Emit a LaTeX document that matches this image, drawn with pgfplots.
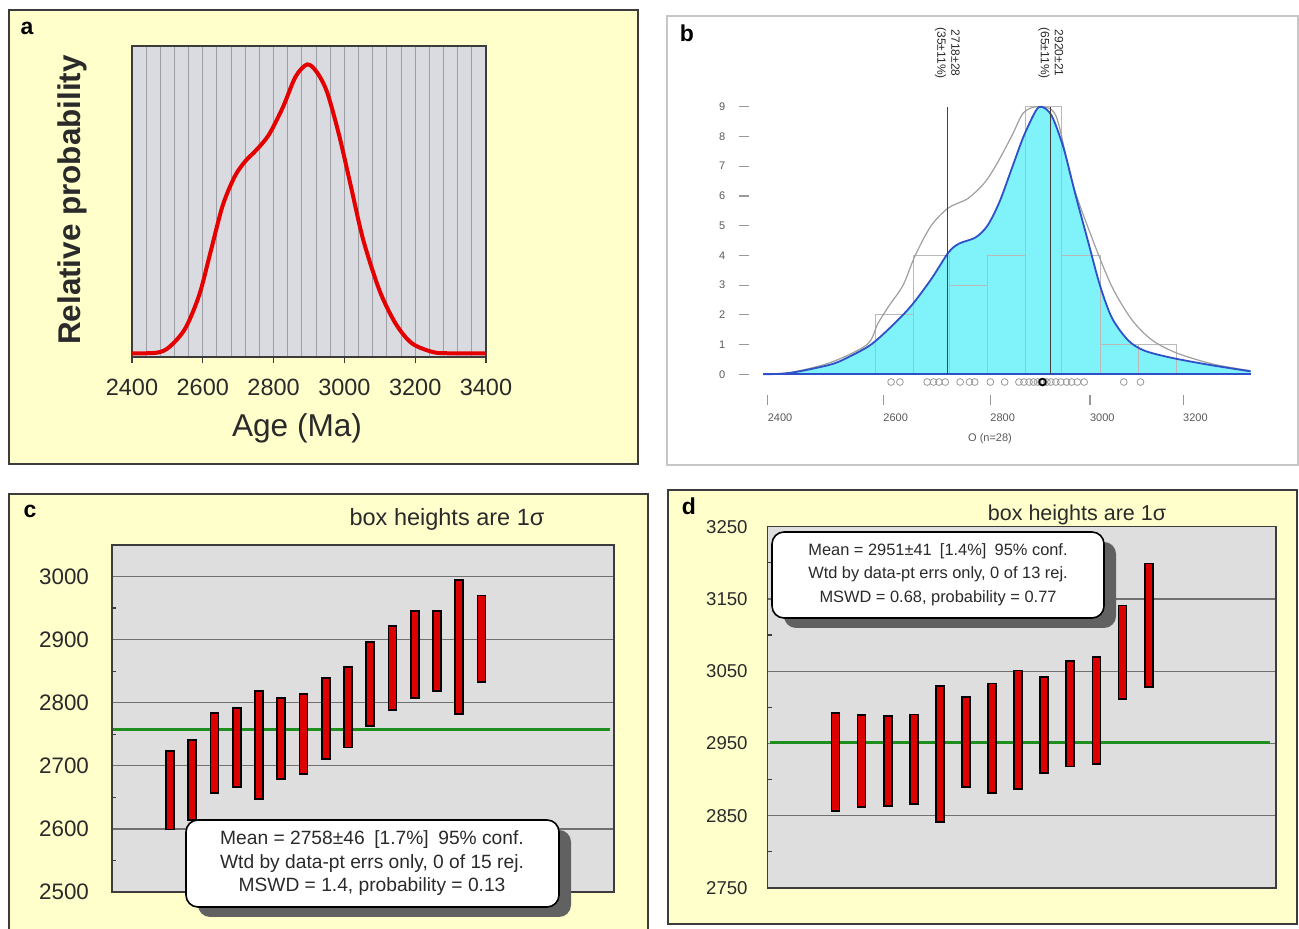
\documentclass[border=0pt]{standalone}
\usepackage{fontspec}
\setmainfont{Liberation Sans}
\usepackage{pgfplots}
\usepackage{pgfplotstable}
\pgfplotsset{compat=1.18}
\definecolor{pyellow}{HTML}{FFFFCC}
\definecolor{pframe}{HTML}{3C3C3C}
\definecolor{abg}{HTML}{DADBE1}
\definecolor{agrid}{HTML}{9E9EA6}
\definecolor{cbg}{HTML}{DEDEDE}
\definecolor{cgrid}{HTML}{707070}
\definecolor{barred}{HTML}{DD0000}
\definecolor{mgreen}{HTML}{1E8F1E}
\definecolor{pcyan}{HTML}{80F2FA}
\definecolor{pblue}{HTML}{2E50C8}
\definecolor{txt}{HTML}{2A2A2A}

\pgfplotstableread{
i lo hi
1 2599 2724
2 2614 2741
3 2657 2784
4 2667 2792
5 2648 2819
6 2679 2808
7 2687 2814
8 2711 2839
9 2729 2856
10 2763 2896
11 2788 2921
12 2808 2946
13 2818 2945
14 2782 2994
15 2833 2970
}\datac

\pgfplotstableread{
i lo hi
1 2857 2992
2 2862 2989
3 2864 2988
4 2866 2990
5 2841 3029
6 2890 3014
7 2882 3033
8 2887 3051
9 2909 3042
10 2918 3064
11 2922 3070
12 3012 3141
13 3028 3199
}\datad

\begin{document}
\begin{tikzpicture}[x=0.5pt,y=0.5pt]
\useasboundingbox (0,0) rectangle (1299,929);
% panel frames
\filldraw[fill=pyellow, draw=pframe, line width=1pt] (9,465) rectangle (638,919);
\filldraw[fill=white, draw=gray!45, line width=0.8pt] (667,464) rectangle (1298,913);
\fill[pyellow] (9,0) rectangle (648,435);
\draw[pframe, line width=1pt] (9,0) -- (9,435) -- (648,435) -- (648,0);
\filldraw[fill=pyellow, draw=pframe, line width=1pt] (668,5) rectangle (1297,439);

\node[font=\bfseries\fontsize{11.5}{12}\selectfont] at (27,901) {a};
\node[font=\bfseries\fontsize{11.5}{12}\selectfont] at (687,896) {b};
\node[font=\bfseries\fontsize{11.5}{12}\selectfont] at (30,418) {c};
\node[font=\bfseries\fontsize{11.5}{12}\selectfont] at (689,423) {d};

% ---------------- panel a
\begin{axis}[at={(66pt,286pt)}, anchor=south west, scale only axis,
  width=177pt, height=155.5pt,
  xmin=2400, xmax=3400, ymin=-0.012, ymax=1,
  xtick={2400,2600,...,3400}, minor x tick num=4, ytick=\empty,
  xmajorgrids, xminorgrids,
  major grid style={draw=agrid, line width=0.5pt},
  minor grid style={draw=agrid, line width=0.5pt},
  axis background/.style={fill=abg},
  axis line style={draw=pframe, line width=0.8pt},
  tick pos=left, tick align=outside, major tick length=3pt, minor tick length=0pt,
  tick style={draw=pframe, line width=0.6pt},
  xticklabel style={font=\fontsize{11.75}{12}\selectfont, text=txt, yshift=-4.5pt},
  /pgf/number format/assume math mode=true,
  /pgf/number format/1000 sep={},
]
\addplot[smooth, draw=red!90!black, line width=2pt] coordinates {
(2400,0) (2470,0.002) (2505,0.02) (2550,0.08) (2590,0.19) (2622,0.33) (2656,0.48)
(2690,0.575) (2720,0.625) (2750,0.66) (2786,0.71) (2826,0.8) (2862,0.9) (2895,0.94)
(2922,0.915) (2951,0.85) (2985,0.71) (3019,0.54) (3053,0.37) (3099,0.205) (3144,0.098)
(3190,0.033) (3250,0.004) (3300,0) (3400,0)};
\end{axis}
\node[font=\fontsize{15.8}{16}\selectfont, text=txt] at (297,501) {Age (Ma)};
\node[font=\bfseries\fontsize{15.7}{16}\selectfont, text=txt, rotate=90] at (72,729) {Relative probability};

% ---------------- panel b
\begin{axis}[at={(376pt,267pt)}, anchor=south west, scale only axis,
  width=249.2pt, height=151.55pt,
  xmode=log, xmin=2374.2, xmax=3352.9, ymin=-0.696, ymax=9.5,
  axis line style={draw=none},
  xtick={2400,2600,2800,3000,3200}, xticklabels={2400,2600,2800,3000,3200},
  ytick={0,1,...,9}, yticklabels={0,1,2,3,4,5,6,7,8,9},
  tick pos=left, tick align=outside, major tick length=5pt, minor tick length=0pt,
  tick style={draw=gray!80, line width=0.6pt},
  tick label style={font=\fontsize{5.5}{6}\selectfont, text=black!65},
  xticklabel style={anchor=north west, xshift=-3.5pt, yshift=-1pt},
  yticklabel style={xshift=-5pt},
  ytick style={xshift=-1.5pt},
  clip=false,
]
\addplot[smooth, fill=pcyan, draw=none] coordinates {
(2392.7,0) (2438.4,0.05) (2507.1,0.33) (2542.2,0.62) (2577.9,1.0) (2614.0,1.6) (2650.6,2.3)
(2687.7,3.2) (2720.0,4.1) (2740.5,4.4) (2771.2,4.6) (2794.4,5.0) (2817.8,5.8) (2841.4,6.9)
(2865.2,8.0) (2889.2,8.85) (2901.3,9.0) (2921.5,8.7) (2946.0,7.6) (2970.7,6.0) (2995.6,4.5)
(3020.7,3.0) (3046.0,1.9) (3080.1,1.15) (3114.6,0.8) (3176.0,0.55) (3265.5,0.3) (3352.9,0.1)} \closedcycle;
\addplot[ybar interval, draw=gray!55, fill=none, line width=0.5pt] coordinates {
(2585,2) (2654,4) (2721,3) (2794,4) (2869,9) (2942,4) (3021,1) (3102,1) (3185,1)};
\addplot[smooth, draw=gray!75, line width=0.6pt] coordinates {
(2392.7,0) (2438.4,0.06) (2507.1,0.4) (2570.7,1.0) (2590,1.7) (2610,2.3) (2635.9,3.0) (2658.0,4.0)
(2687.7,5.0) (2720.0,5.6) (2755.7,5.9) (2786.7,6.4) (2810.0,7.0) (2841.4,8.0) (2865.2,8.8)
(2895,9.0) (2930,8.7) (2962.6,6.5) (3003.9,4.6) (3046,2.95) (3088.7,1.83) (3132,1.15)
(3185,0.72) (3265,0.35) (3352.9,0.12)};
\addplot[smooth, draw=pblue, line width=0.9pt] coordinates {
(2392.7,0) (2438.4,0.05) (2507.1,0.33) (2542.2,0.62) (2577.9,1.0) (2614.0,1.6) (2650.6,2.3)
(2687.7,3.2) (2720.0,4.1) (2740.5,4.4) (2771.2,4.6) (2794.4,5.0) (2817.8,5.8) (2841.4,6.9)
(2865.2,8.0) (2889.2,8.85) (2901.3,9.0) (2921.5,8.7) (2946.0,7.6) (2970.7,6.0) (2995.6,4.5)
(3020.7,3.0) (3046.0,1.9) (3080.1,1.15) (3114.6,0.8) (3176.0,0.55) (3265.5,0.3) (3352.9,0.1)};
\addplot[draw=pblue, line width=0.9pt] coordinates {(2392.7,0) (3352.9,0)};
\addplot[draw=black!75, line width=0.5pt] coordinates {(2718,0) (2718,9)};
\addplot[draw=black!75, line width=0.5pt] coordinates {(2920,0) (2920,9)};
\addplot[only marks, mark=o, mark size=1.7pt, draw=gray!80, mark options={line width=0.4pt}] coordinates {
(2614,-0.26) (2630,-0.26) (2680,-0.26) (2692,-0.26) (2702,-0.26) (2714,-0.26) (2742,-0.26)
(2760,-0.26) (2800,-0.26) (2828,-0.26) (2856,-0.26) (2866,-0.26) (2876,-0.26) (2885,-0.26)
(2893,-0.26) (2900,-0.26) (2906,-0.26) (2912,-0.26) (2920,-0.26) (2930,-0.26) (2940,-0.26)
(2952,-0.26) (2962,-0.26) (2974,-0.26) (2988,-0.26) (2770,-0.26) (3071,-0.26) (3107,-0.26)};
\addplot[only marks, mark=o, mark size=1.7pt, draw=black, mark options={line width=0.8pt}] coordinates {(2903,-0.26)};
\node[rotate=-90, align=center, font=\fontsize{6}{7}\selectfont, text=txt, xshift=-3pt] at (axis cs:2718,10.6) {2718±28\\(35±11\%)};
\node[rotate=-90, align=center, font=\fontsize{6}{7}\selectfont, text=txt, xshift=-3pt] at (axis cs:2920,10.6) {2920±21\\(65±11\%)};
\end{axis}
\node[font=\fontsize{5.5}{6}\selectfont, text=black!65] at (990,490) {O (n=28)};

% ---------------- panel c
\begin{axis}[at={(56pt,18.5pt)}, anchor=south west, scale only axis,
  width=251pt, height=173.5pt,
  xmin=-1.61, xmax=20.96, ymin=2500, ymax=3050,
  xtick=\empty, ytick={2500,2600,...,3000}, minor ytick={2550,2650,...,2950},
  ymajorgrids, major grid style={draw=cgrid, line width=0.6pt},
  axis background/.style={fill=cbg},
  axis line style={draw=pframe, line width=0.7pt},
  tick pos=left, major tick length=0pt, minor tick length=2pt, tick align=inside,
  tick style={draw=pframe, line width=0.6pt},
  yticklabel style={font=\fontsize{11.2}{12}\selectfont, text=txt, xshift=-8pt},
  /pgf/number format/assume math mode=true, /pgf/number format/1000 sep={},
]
\addplot[draw=mgreen, line width=1.3pt] coordinates {(-1.55,2758) (20.78,2758)};
\end{axis}
\begin{axis}[at={(56pt,18.5pt)}, anchor=south west, scale only axis,
  width=251pt, height=173.5pt,
  xmin=-1.61, xmax=20.96, ymin=2500, ymax=3050, hide axis,
  ybar stacked, bar width=4pt]
\addplot[draw=none, fill=none] table[x=i, y=lo] {\datac};
\addplot[fill=barred, draw=black, line width=0.9pt] table[x=i, y expr=\thisrow{hi}-\thisrow{lo}] {\datac};
\end{axis}
\node[font=\fontsize{11.75}{12}\selectfont, text=txt] at (447,410) {box heights are 1σ};

% ---------------- panel d
\begin{axis}[at={(383.8pt,20.5pt)}, anchor=south west, scale only axis,
  width=254.2pt, height=180.65pt,
  xmin=-1.60, xmax=17.88, ymin=2750, ymax=3250,
  xtick=\empty, ytick={2750,2850,...,3250}, minor ytick={2800,2900,...,3200},
  ymajorgrids, major grid style={draw=cgrid, line width=0.6pt},
  axis background/.style={fill=cbg},
  axis line style={draw=pframe, line width=0.7pt},
  tick pos=left, major tick length=0pt, minor tick length=2pt, tick align=inside,
  tick style={draw=pframe, line width=0.6pt},
  yticklabel style={font=\fontsize{9.3}{11}\selectfont, text=txt, xshift=-6.5pt},
  /pgf/number format/assume math mode=true, /pgf/number format/1000 sep={},
]
\addplot[draw=mgreen, line width=1.3pt] coordinates {(-1.52,2951) (17.65,2951)};
\end{axis}
\begin{axis}[at={(383.8pt,20.5pt)}, anchor=south west, scale only axis,
  width=254.2pt, height=180.65pt,
  xmin=-1.60, xmax=17.88, ymin=2750, ymax=3250, hide axis,
  ybar stacked, bar width=4pt]
\addplot[draw=none, fill=none] table[x=i, y=lo] {\datad};
\addplot[fill=barred, draw=black, line width=0.9pt] table[x=i, y expr=\thisrow{hi}-\thisrow{lo}] {\datad};
\end{axis}
\node[font=\fontsize{10.75}{12}\selectfont, text=txt] at (1077,414) {box heights are 1σ};

% ---------------- text boxes
\fill[black!62, rounded corners=6pt] (198,12) rectangle (571,99);
\filldraw[fill=white, draw=black, line width=0.8pt, rounded corners=6pt] (186,22) rectangle (559,109);
\node[font=\fontsize{9.6}{11.75}\selectfont, align=center, text=txt] at (372,65.5)
  {Mean = 2758±46\enspace [1.7\%]\enspace 95\% conf.\\Wtd by data-pt errs only, 0 of 15 rej.\\MSWD = 1.4, probability = 0.13};

\fill[black!62, rounded corners=6pt] (784,301) rectangle (1116,387);
\filldraw[fill=white, draw=black, line width=0.8pt, rounded corners=6pt] (772,311) rectangle (1104,397);
\node[font=\fontsize{8.2}{11.75}\selectfont, align=center, text=txt] at (938,354.5)
  {Mean = 2951±41\enspace [1.4\%]\enspace 95\% conf.\\Wtd by data-pt errs only, 0 of 13 rej.\\MSWD = 0.68, probability = 0.77};
\end{tikzpicture}
\end{document}
